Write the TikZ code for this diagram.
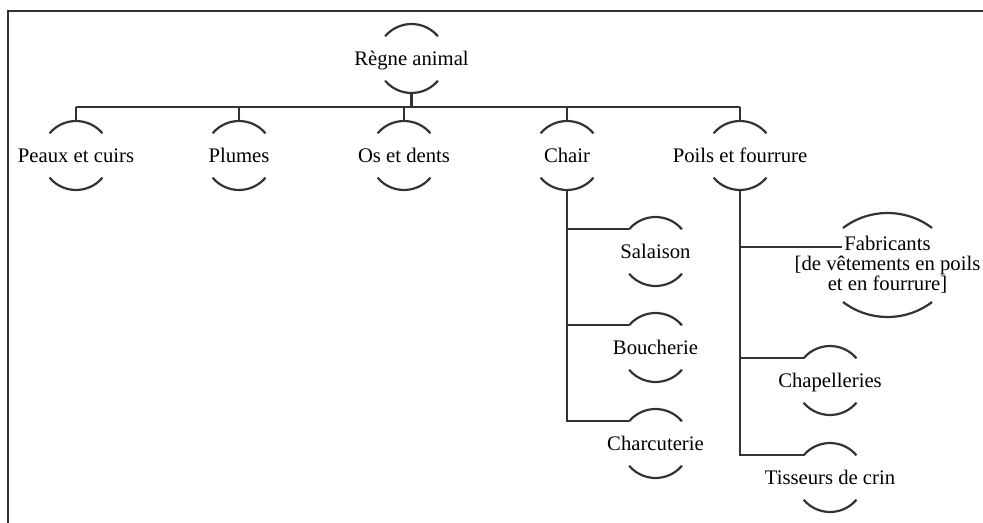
\documentclass[tikz,border=0pt]{standalone}
\usepackage{fontspec}
\setmainfont{Liberation Serif}

\tikzset{
  trait/.style={line width=1.1pt, draw=black!80},
  etiquette/.style={inner sep=0pt, text height=7pt, text depth=0pt},
}
% deux arcs autour d'une etiquette, avec les points d'attache
\newcommand\bulle[1]{%
  \draw[trait] ([shift={(140:\rb)}]#1.center) coordinate (#1-g) arc (140:40:\rb);
  \draw[trait] ([shift={(-140:\rb)}]#1.center) arc (-140:-40:\rb);
  \coordinate (#1-h) at ([yshift=\rb]#1.center);
  \coordinate (#1-b) at ([yshift=-\rb]#1.center);}

\begin{document}
\begin{tikzpicture}[x=0.5pt, y=0.5pt, font=\fontsize{10.35}{10}\selectfont]
  %tikz  Regne animal, arbre
    \def\rb{17.25pt}
    \useasboundingbox (0,0) rectangle (983,-523);
    \draw[trait] (8,-523) -- (8,-11) -- (983,-11);

    \node[etiquette] (regne) at (411.5,-58.5) {Règne animal};
    \node[etiquette] (peaux) at (76,-155.5) {Peaux et cuirs};
    \node[etiquette] (plumes) at (239,-155.5) {Plumes};
    \node[etiquette] (os) at (404,-155.5) {Os et dents};
    \node[etiquette] (chair) at (567,-155.5) {Chair};
    \node[etiquette] (poils) at (740,-155.5) {Poils et fourrure};

    \node[etiquette] (salaison) at (655.5,-251.5) {Salaison};
    \node[etiquette] (boucherie) at (655.5,-347.5) {Boucherie};
    \node[etiquette] (charcuterie) at (655.5,-443.5) {Charcuterie};

    \node[align=center, inner sep=0pt] (fabricants) at (887.5,-265)
      {Fabricants\\{[}de vêtements en poils\\et en fourrure]};
    \node[etiquette] (chapelleries) at (830,-380.5) {Chapelleries};
    \node[etiquette] (tisseurs) at (830,-477.5) {Tisseurs de crin};

    \foreach \n in {regne,peaux,plumes,os,chair,poils,salaison,boucherie,charcuterie,chapelleries,tisseurs}
      {\bulle{\n}}
    \draw[trait] ([xshift=-22.25pt,yshift=18.5pt]fabricants.center) arc (127.3:52.7:36.75pt);
    \draw[trait] ([xshift=-22.25pt,yshift=-18.5pt]fabricants.center) arc (-127.3:-52.7:36.75pt);
    \coordinate (fabricants-g) at ([xshift=-22.75pt,yshift=9pt]fabricants.center);

    % liaisons
    \coordinate (barre) at (0,-107);
    \draw[trait] (regne-b) -- (regne-b |- barre);
    \draw[trait] (peaux-h |- barre) -- (poils-h |- barre);
    \foreach \n in {peaux,plumes,os,chair,poils}
      \draw[trait] (\n-h |- barre) -- (\n-h);
    \draw[trait] (chair-b) |- (charcuterie-g);
    \foreach \n in {salaison,boucherie}
      \draw[trait] (chair-b |- \n-g) -- (\n-g);
    \draw[trait] (poils-b) |- (tisseurs-g);
    \draw[trait] (poils-b |- chapelleries-g) -- (chapelleries-g);
    \draw[trait] (poils-b |- fabricants-g) -- (fabricants-g);
\end{tikzpicture}
\end{document}
